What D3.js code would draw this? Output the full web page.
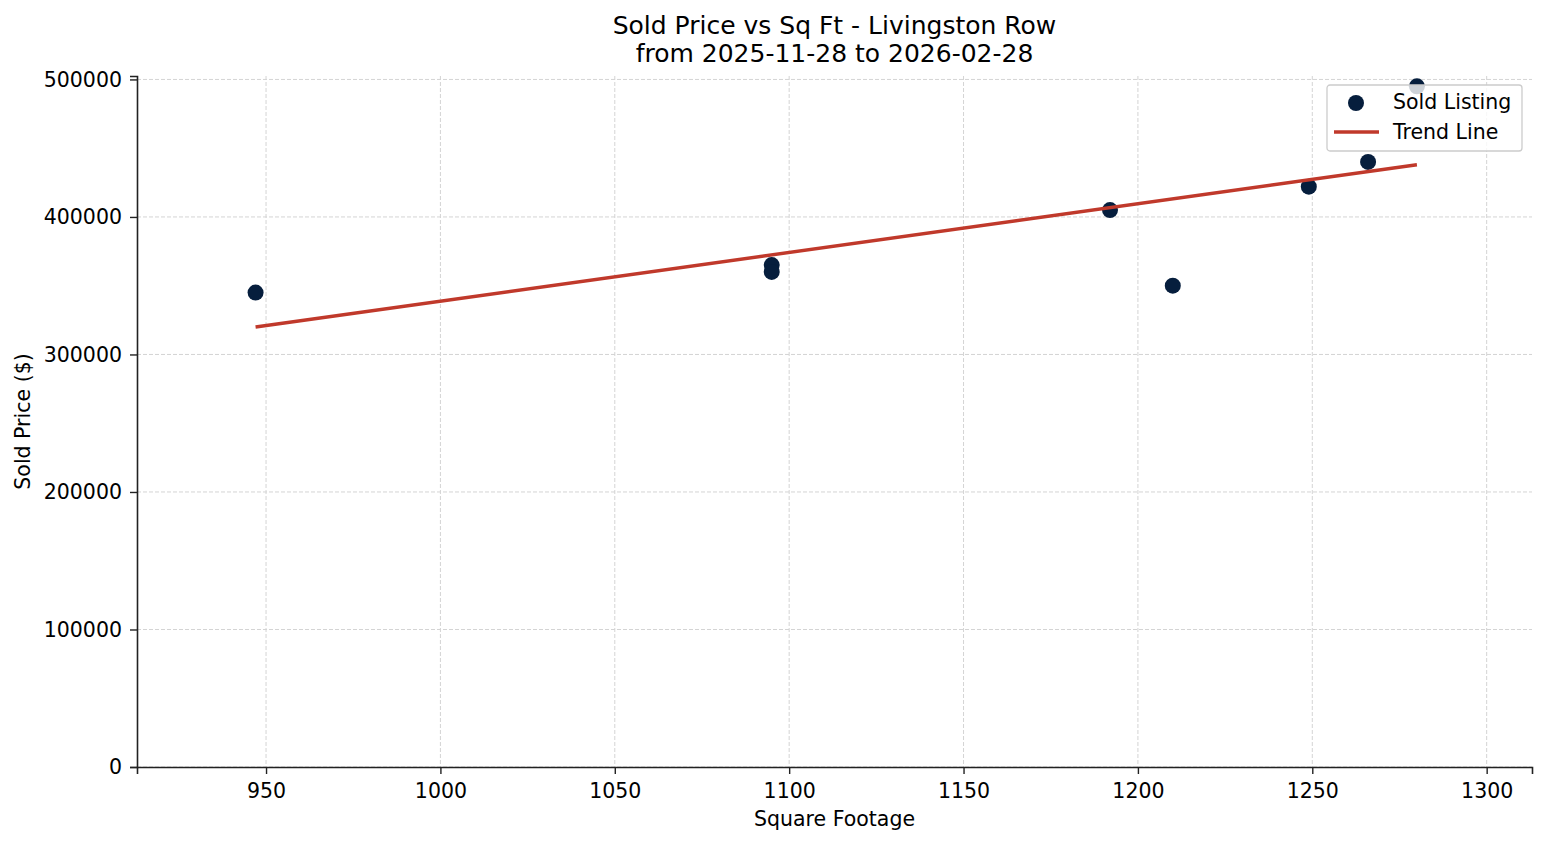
<!DOCTYPE html>
<html>
<head>
<meta charset="utf-8">
<script src="https://cdn.jsdelivr.net/npm/d3@7"></script>
<style>
  body { margin: 0; background: white; }
  svg { display: block; font-family: "DejaVu Sans", sans-serif; }
</style>
</head>
<body>
<svg id="chart" width="1547" height="845"></svg>
<script>
// sold listings
const sqft = [947, 1095, 1095, 1192, 1210, 1249, 1266, 1280];
const soldPrice = [345000, 365000, 360000, 405000, 350000, 422000, 440000, 495000];

// trend line end points
const trendSqft = [947, 1280];
const trendPrice = [320000, 438000];

const xTicks = [950, 1000, 1050, 1100, 1150, 1200, 1250, 1300];
const yTicks = [0, 100000, 200000, 300000, 400000, 500000];

const titleLines = ["Sold Price vs Sq Ft - Livingston Row", "from 2025-11-28 to 2026-02-28"];

const width = 1547, height = 845;
const margin = { top: 76, right: 15, bottom: 78, left: 137 };
const innerW = width - margin.left - margin.right;
const innerH = height - margin.top - margin.bottom;

const pointColor = "#061e3d";
const lineColor = "#c0392b";
const fontSize = "20.5px";

const svg = d3.select("#chart");

const x = d3.scaleLinear().domain([913, 1313]).range([0, innerW]);
const y = d3.scaleLinear().domain([0, 502500]).range([innerH, 0]);

const g = svg.append("g")
    .attr("transform", `translate(${margin.left},${margin.top})`);

// grid
g.append("g")
    .selectAll("line")
    .data(xTicks)
    .enter().append("line")
    .attr("x1", d => x(d)).attr("x2", d => x(d))
    .attr("y1", 0).attr("y2", innerH)
    .attr("stroke", "#d4d4d4")
    .attr("stroke-width", 1)
    .attr("stroke-dasharray", "4,2");

g.append("g")
    .selectAll("line")
    .data(yTicks)
    .enter().append("line")
    .attr("x1", 0).attr("x2", innerW)
    .attr("y1", d => y(d)).attr("y2", d => y(d))
    .attr("stroke", "#d4d4d4")
    .attr("stroke-width", 1)
    .attr("stroke-dasharray", "4,2");

// points
g.append("g")
    .selectAll("circle")
    .data(sqft.map((s, i) => ({ s, p: soldPrice[i] })))
    .enter().append("circle")
    .attr("cx", d => x(d.s))
    .attr("cy", d => y(d.p))
    .attr("r", 8)
    .attr("fill", pointColor);

// trend line
const line = d3.line()
    .x(d => x(d[0]))
    .y(d => y(d[1]));

g.append("path")
    .datum(trendSqft.map((s, i) => [s, trendPrice[i]]))
    .attr("d", line)
    .attr("fill", "none")
    .attr("stroke", lineColor)
    .attr("stroke-width", 3.5);

// axes
const xAxis = g.append("g")
    .attr("transform", `translate(0,${innerH})`)
    .call(d3.axisBottom(x).tickValues(xTicks).tickFormat(d3.format("d")).tickSize(7).tickPadding(8));

const yAxis = g.append("g")
    .call(d3.axisLeft(y).tickValues(yTicks).tickFormat(d3.format("d")).tickSize(7).tickPadding(8));

[xAxis, yAxis].forEach(a => {
    a.select(".domain").attr("stroke", "#222").attr("stroke-width", 1.6);
    a.selectAll(".tick line").attr("stroke", "#222").attr("stroke-width", 1.4);
    a.selectAll("text")
        .style("font-family", "DejaVu Sans, sans-serif")
        .style("font-size", fontSize)
        .attr("fill", "#000");
});
xAxis.selectAll("text").attr("dy", "0.8em");

// axis labels
svg.append("text")
    .attr("x", margin.left + innerW / 2)
    .attr("y", 826)
    .attr("text-anchor", "middle")
    .style("font-size", fontSize)
    .text("Square Footage");

svg.append("text")
    .attr("transform", `translate(30,${margin.top + innerH / 2}) rotate(-90)`)
    .attr("text-anchor", "middle")
    .style("font-size", fontSize)
    .text("Sold Price ($)");

// title
svg.append("g")
    .selectAll("text")
    .data(titleLines)
    .enter().append("text")
    .attr("x", margin.left + innerW / 2)
    .attr("y", (d, i) => 34 + i * 28)
    .attr("text-anchor", "middle")
    .style("font-size", "25px")
    .text(d => d);

// legend
const legend = svg.append("g")
    .attr("transform", "translate(1327,85)");

legend.append("rect")
    .attr("width", 195)
    .attr("height", 66)
    .attr("rx", 3)
    .attr("fill", "white")
    .attr("fill-opacity", 0.8)
    .attr("stroke", "#cccccc")
    .attr("stroke-width", 1.3);

legend.append("circle")
    .attr("cx", 29)
    .attr("cy", 18)
    .attr("r", 8)
    .attr("fill", pointColor);

legend.append("line")
    .attr("x1", 7).attr("x2", 52)
    .attr("y1", 47).attr("y2", 47)
    .attr("stroke", lineColor)
    .attr("stroke-width", 3.5);

legend.selectAll(".lbl")
    .data(["Sold Listing", "Trend Line"])
    .enter().append("text")
    .attr("class", "lbl")
    .attr("x", 66)
    .attr("y", (d, i) => 24 + i * 30)
    .style("font-size", fontSize)
    .text(d => d);
</script>
</body>
</html>
